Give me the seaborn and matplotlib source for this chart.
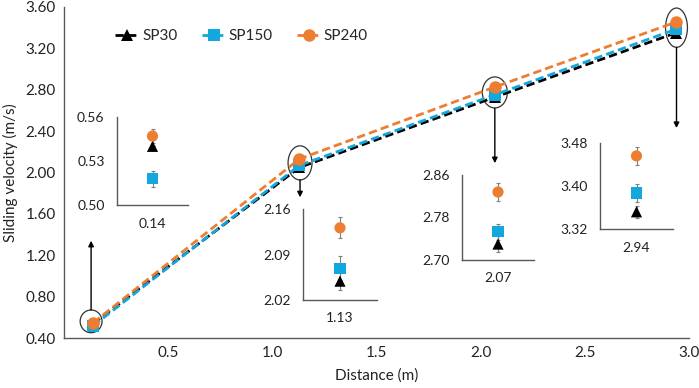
import numpy as np
import pandas as pd
import matplotlib
matplotlib.use("Agg")
import matplotlib.pyplot as plt
from matplotlib.patches import Ellipse
from matplotlib.ticker import FormatStrFormatter
import seaborn as sns

# --- data ---
distance = [0.14, 1.13, 2.07, 2.94]
series = ["SP30", "SP150", "SP240"]
sp30 = [0.540, 2.049, 2.730, 3.352]
sp150 = [0.518, 2.069, 2.753, 3.387]
sp240 = [0.547, 2.131, 2.828, 3.456]
err30 = [0.0, 0.014, 0.015, 0.011]
err150 = [0.0055, 0.018, 0.015, 0.017]
err240 = [0.0047, 0.016, 0.017, 0.017]

# inset y ranges and ticks
inset_ylims = [(0.50, 0.56), (2.02, 2.16), (2.70, 2.86), (3.32, 3.48)]
inset_yticks = [[0.50, 0.53, 0.56], [2.02, 2.09, 2.16], [2.70, 2.78, 2.86], [3.32, 3.40, 3.48]]

colors = {"SP30": "#000000", "SP150": "#12A7DE", "SP240": "#ED7D31"}
markers = {"SP30": "^", "SP150": "s", "SP240": "o"}
dashes = {"SP30": (3, 1.5), "SP150": (3, 1.5), "SP240": (3, 1.5)}

df = pd.DataFrame({
    "Distance": distance * 3,
    "Velocity": sp30 + sp150 + sp240,
    "Error": err30 + err150 + err240,
    "Series": [s for s in series for _ in distance],
})

sns.set_style("white")
plt.rcParams["font.family"] = ["Lato", "DejaVu Sans"]

fig = plt.figure(figsize=(6.99, 3.88), dpi=100)
W, H = 699, 388
ax = fig.add_axes([64 / W, 1 - 338 / H, (689 - 64) / W, (338 - 7) / H])

sns.lineplot(data=df, x="Distance", y="Velocity", hue="Series", style="Series",
             palette=colors, markers=markers, dashes=dashes, markersize=9,
             markeredgewidth=0, linewidth=2, ax=ax, legend=True)

ax.set_xlim(0, 3.0)
ax.set_ylim(0.40, 3.60)
ax.set_xticks([0.5, 1.0, 1.5, 2.0, 2.5, 3.0])
ax.set_yticks(np.arange(0.40, 3.61, 0.40))
ax.xaxis.set_major_formatter(FormatStrFormatter("%.1f"))
ax.yaxis.set_major_formatter(FormatStrFormatter("%.2f"))
ax.tick_params(direction="in", length=4, width=1, color="#595959",
               labelsize=11, labelcolor="#222222", pad=6)
for s in ["top", "right"]:
    ax.spines[s].set_visible(False)
for s in ["left", "bottom"]:
    ax.spines[s].set_color("#595959")
    ax.spines[s].set_linewidth(1)
ax.set_xlabel("Distance (m)", fontsize=11, color="#222222", labelpad=6)
ax.set_ylabel("Sliding velocity (m/s)", fontsize=11, color="#222222", labelpad=5)

leg = ax.legend(loc="center left", bbox_to_anchor=(0.06, 0.912), ncol=3, frameon=False,
                fontsize=11, handlelength=1.6, columnspacing=1.6, handletextpad=0.15)

# ellipses around points and arrows to insets
ell = [(0.13, 0.561, 0.105, 0.22), (1.133, 2.093, 0.115, 0.33),
       (2.068, 2.774, 0.12, 0.30), (2.94, 3.40, 0.105, 0.38)]
for cx, cy, w, h in ell:
    ax.add_patch(Ellipse((cx, cy), w, h, fill=False, ec="#333333", lw=0.9))
arrows = [((0.13, 0.67), (0.13, 1.34)), ((1.133, 1.93), (1.133, 1.76)),
          ((2.068, 2.62), (2.068, 2.09)), ((2.94, 3.21), (2.94, 2.43))]
for start, end in arrows:
    ax.annotate("", xy=end, xytext=start,
                arrowprops=dict(arrowstyle="-|>", color="black", lw=1, mutation_scale=8,
                                shrinkA=0, shrinkB=0))

# insets (pixel boxes: left, right, top, bottom)
boxes = [(117, 188, 117, 205), (303, 377, 209, 300), (462, 534, 175, 260), (600, 673, 143, 229)]
for i, (l, r, t, b) in enumerate(boxes):
    iax = fig.add_axes([l / W, 1 - b / H, (r - l) / W, (b - t) / H])
    x0 = distance[i]
    sub = df[df["Distance"] == x0]
    for s in ["SP30", "SP150", "SP240"]:
        row = sub[sub["Series"] == s]
        iax.errorbar(row["Distance"], row["Velocity"], yerr=row["Error"], fmt="none",
                     ecolor="#7F7F7F", elinewidth=0.8, capsize=1.5, capthick=0.8)
    sns.scatterplot(data=sub, x="Distance", y="Velocity", hue="Series", style="Series",
                    palette=colors, markers=markers, s=65, linewidth=0, ax=iax,
                    legend=False, zorder=3)
    iax.set_xlim(x0 - 1, x0 + 1)
    iax.set_ylim(*inset_ylims[i])
    iax.set_xticks([x0])
    iax.set_xticklabels([f"{x0:.2f}"])
    iax.set_xticks([x0 + 1], minor=True)
    iax.set_yticks(inset_yticks[i])
    iax.yaxis.set_major_formatter(FormatStrFormatter("%.2f"))
    iax.tick_params(which="both", direction="in", length=3, width=1, color="#595959",
                    labelsize=10, labelcolor="#222222")
    iax.tick_params(axis="y", pad=9)
    iax.tick_params(axis="x", pad=9)
    iax.set_xlabel("")
    iax.set_ylabel("")
    iax.patch.set_alpha(0)
    for s in ["top", "right"]:
        iax.spines[s].set_visible(False)
    for s in ["left", "bottom"]:
        iax.spines[s].set_color("#595959")
        iax.spines[s].set_linewidth(1)

fig.savefig("out.png", dpi=100)
